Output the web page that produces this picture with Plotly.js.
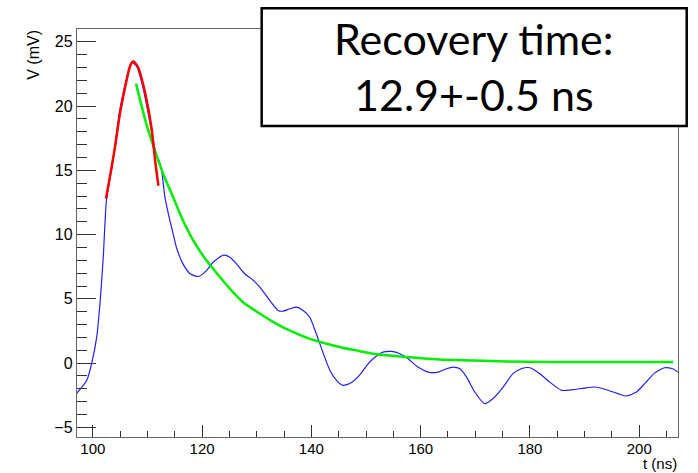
<!DOCTYPE html>
<html>
<head>
<meta charset="utf-8">
<script src="https://cdn.plot.ly/plotly-3.0.1.min.js"></script>
<style>html,body{margin:0;padding:0;background:#fff;}#chart{width:698px;height:473px;}</style>
</head>
<body>
<div id="chart"></div>
<script>
// Waveform (blue)
const tWave = [97.0, 98.9, 99.8, 100.7, 101.3, 101.9, 102.5, 103.7, 104.9, 106.2, 107.1, 108.0, 109.2, 110.5, 111.4, 112.3, 112.6, 113.2, 114.1, 114.7, 115.3, 116.5, 117.8, 119.3, 120.8, 122.0, 123.9, 125.1, 126.3, 127.8, 129.4, 130.6, 132.4, 133.9, 134.8, 136.1, 137.3, 138.5, 139.7, 140.9, 142.2, 143.4, 144.6, 145.8, 147.2, 148.9, 150.3, 151.3, 153.1, 154.7, 156.2, 157.7, 159.5, 161.4, 163.2, 164.7, 165.9, 167.2, 168.4, 169.9, 171.7, 173.2, 175.1, 176.9, 178.4, 180.0, 181.8, 183.6, 185.8, 187.9, 190.0, 191.9, 194.0, 196.1, 197.6, 199.5, 201.0, 202.8, 204.6, 206.1, 207.1];
const vWave = [-2.38, -1.34, 0.0, 2.0, 4.6, 8.2, 12.7, 15.75, 19.6, 22.2, 23.4, 23.1, 21.4, 18.6, 16.6, 15.5, 14.97, 12.9, 11.1, 10.05, 9.0, 7.72, 6.95, 6.74, 7.2, 7.85, 8.4, 8.24, 7.72, 6.95, 6.43, 5.9, 4.87, 4.1, 4.04, 4.23, 4.35, 4.1, 3.57, 2.28, 0.73, -0.57, -1.34, -1.73, -1.55, -0.9, -0.1, 0.34, 0.85, 0.91, 0.73, 0.34, -0.31, -0.70, -0.70, -0.44, -0.31, -0.44, -1.09, -2.25, -3.16, -2.77, -1.86, -0.82, -0.44, -0.36, -0.82, -1.47, -2.12, -2.07, -1.94, -1.86, -2.07, -2.38, -2.56, -2.25, -1.6, -0.78, -0.36, -0.44, -0.70];

// Peak fit (red)
const tPeakFit = [102.4, 103.1, 104.05, 104.95, 105.9, 106.8, 107.4, 108.3, 109.2, 110.1, 110.8, 111.4, 112.0];
const vPeakFit = [12.8, 14.45, 16.8, 19.4, 21.45, 23.1, 23.5, 23.0, 21.7, 19.9, 18.1, 15.75, 13.8];

// Recovery fit (green)
const tExpFit = [107.9, 109.8, 111.4, 112.9, 114.7, 116.5, 118.4, 120.8, 123.3, 125.1, 127.5, 130.6, 133.6, 136.7, 139.7, 142.8, 145.5, 148.9, 151.3, 157.4, 163.5, 169.6, 175.7, 183.6, 194.0, 206.2];
const vExpFit = [21.75, 18.6, 16.5, 14.7, 12.9, 11.1, 9.53, 7.98, 6.68, 5.78, 4.74, 3.84, 3.06, 2.41, 1.89, 1.51, 1.22, 0.93, 0.73, 0.47, 0.29, 0.21, 0.13, 0.08, 0.08, 0.08];

// Axis ticks
const yTickVals = [-5, 0, 5, 10, 15, 20, 25];
const yTickText = ["\u22125", "0", "5", "10", "15", "20", "25"];
const xTickVals = [100, 120, 140, 160, 180, 200];
const xTickText = ["100", "120", "140", "160", "180", "200"];

const boxText = "Recovery time:<br>12.9+-0.5 ns";

const traces = [
  {x: tWave, y: vWave, mode: 'lines', line: {color: '#2020ff', width: 1.2, shape: 'spline', smoothing: 0.6}, hoverinfo: 'skip'},
  {x: tExpFit, y: vExpFit, mode: 'lines', line: {color: '#00ee00', width: 2.5, shape: 'spline', smoothing: 0.6}, hoverinfo: 'skip'},
  {x: tPeakFit, y: vPeakFit, mode: 'lines', line: {color: '#ff0000', width: 2.5, shape: 'spline', smoothing: 0.6}, hoverinfo: 'skip'}
];

const axisFont = {family: 'Liberation Sans, Arial, sans-serif', size: 16, color: '#000'};
const xFont = {family: 'Liberation Sans, Arial, sans-serif', size: 15, color: '#000'};

const layout = {
  width: 698, height: 473,
  margin: {l: 77, r: 20, t: 29, b: 36},
  paper_bgcolor: '#fff', plot_bgcolor: '#fff',
  showlegend: false,
  xaxis: {
    range: [97.1, 207.1], showgrid: false, zeroline: false,
    showline: true, linecolor: '#666', linewidth: 1.2, mirror: true,
    ticks: 'inside', ticklen: 12, tickcolor: '#333', tickwidth: 1,
    tickmode: 'array', tickvals: xTickVals, ticktext: xTickText,
    tickfont: xFont, ticklabelstandoff: -2,
    minor: {dtick: 5, tick0: 0, ticks: 'inside', ticklen: 6, tickcolor: '#333', tickwidth: 1, showgrid: false}
  },
  yaxis: {
    range: [-5.75, 26.0], showgrid: false, zeroline: false,
    showline: true, linecolor: '#666', linewidth: 1.2, mirror: true,
    ticks: 'inside', ticklen: 19, tickcolor: '#333', tickwidth: 1,
    tickmode: 'array', tickvals: yTickVals, ticktext: yTickText,
    tickfont: axisFont,
    minor: {dtick: 1, tick0: 0, ticks: 'inside', ticklen: 10, tickcolor: '#333', tickwidth: 1, showgrid: false}
  },
  shapes: [
    {type: 'rect', xref: 'paper', yref: 'paper', x0: 0.3073, x1: 1.0145, y0: 0.762, y1: 1.0507,
     line: {color: '#000', width: 2.5}, fillcolor: '#fff', layer: 'above'}
  ],
  annotations: [
    {text: boxText, xref: 'paper', yref: 'paper', x: 0.661, y: 0.908, xanchor: 'center', yanchor: 'middle',
     showarrow: false, font: {family: 'Lato, Carlito, Calibri, sans-serif', size: 43, color: '#000'}},
    {text: 'V (mV)', xref: 'paper', yref: 'paper', x: -0.0715, y: 1.003, xanchor: 'center', yanchor: 'top',
     textangle: -90, showarrow: false, font: axisFont},
    {text: 't (ns)', xref: 'paper', yref: 'paper', x: 1.0, y: -0.0875, xanchor: 'right', yanchor: 'bottom',
     showarrow: false, borderpad: 0, font: xFont}
  ]
};

Plotly.newPlot('chart', traces, layout, {displayModeBar: false, staticPlot: true});
</script>
</body>
</html>
